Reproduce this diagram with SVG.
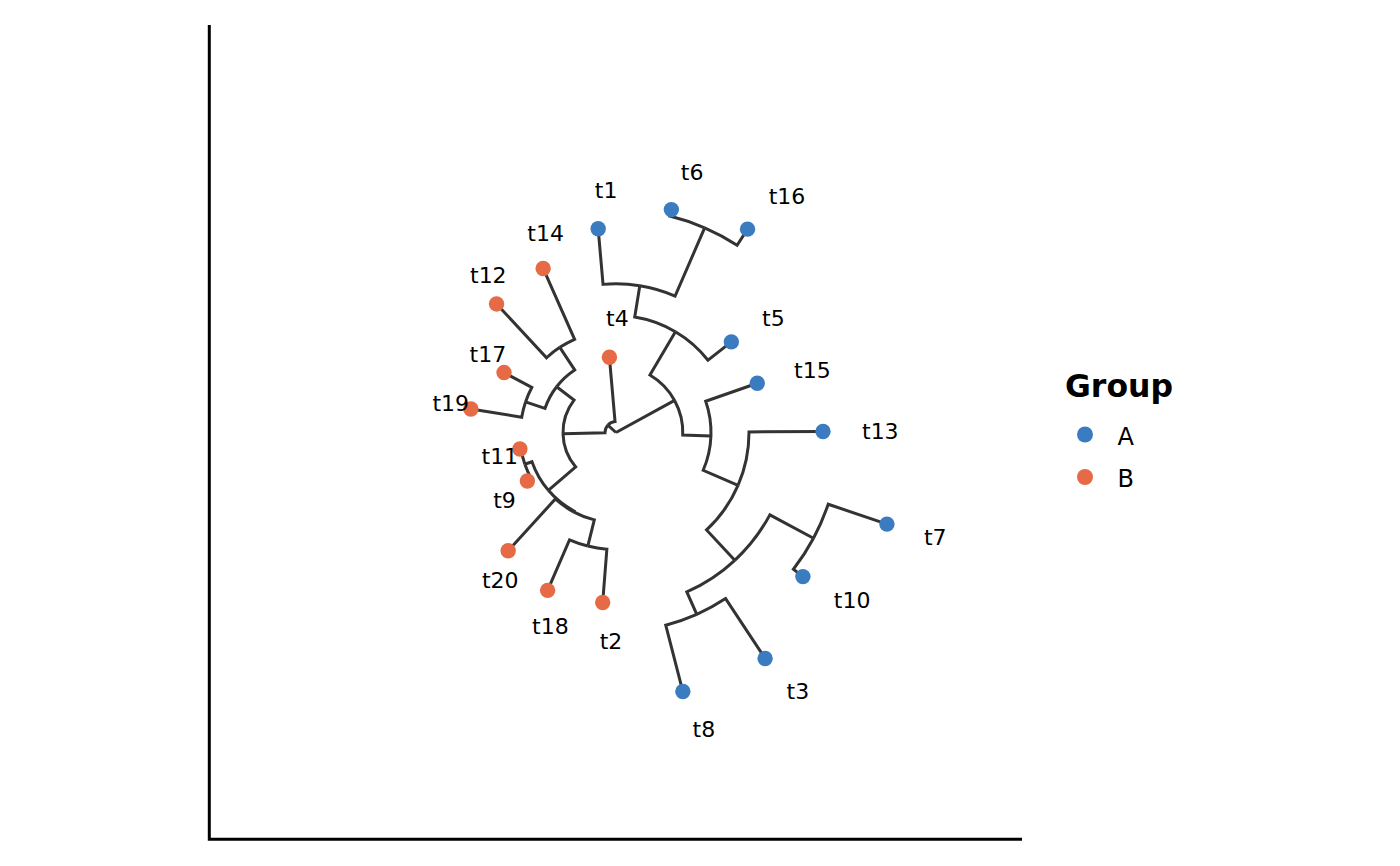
<svg xmlns="http://www.w3.org/2000/svg" width="1400" height="866" viewBox="0 0 1400 866">
<style>
.e{fill:none;stroke:#333333;stroke-width:3;stroke-linejoin:miter;stroke-linecap:butt}
.a{fill:#3B7BC0}
.b{fill:#E56A45}
.lbl{font-family:"DejaVu Sans","Liberation Sans",sans-serif;font-size:22px;fill:#000}
.ax{fill:none;stroke:#000;stroke-width:3}
</style>
<rect width="1400" height="866" fill="#fff"/>
<path class="ax" d="M209.3,25 L209.3,839.3 L1022,839.3"/>
<g id="connectors">
<path class="e" d="M616,432.5 L607.80,425.17"/>
<path class="e" d="M616,432.5 L674.60,400.44"/>
<path class="e" d="M607.80,425.17 A11 11 0 0 0 605.00,432.78 L563.02,433.84"/>
<path class="e" d="M607.80,425.17 A11 11 0 0 1 615.04,421.54 L609.42,357.29"/>
<path class="e" d="M563.02,433.84 A53 53 0 0 1 574.03,400.14 L556.60,386.71"/>
<path class="e" d="M563.02,433.84 A53 53 0 0 0 575.71,466.94 L548.35,490.33"/>
<path class="e" d="M556.60,386.71 A75 75 0 0 1 574.69,369.90 L559.82,347.37"/>
<path class="e" d="M556.60,386.71 A75 75 0 0 0 544.95,408.47 L525.53,401.91"/>
<path class="e" d="M559.82,347.37 A102 102 0 0 1 574.60,339.28 L543.14,268.45"/>
<path class="e" d="M559.82,347.37 A102 102 0 0 0 546.57,357.77 L496.54,303.93"/>
<path class="e" d="M525.53,401.91 A95.5 95.5 0 0 1 531.80,387.43 L504.03,372.57"/>
<path class="e" d="M525.53,401.91 A95.5 95.5 0 0 0 521.73,417.21 L470.89,408.97"/>
<path class="e" d="M548.35,490.33 A89 89 0 0 1 531.96,461.78 L524.87,464.25"/>
<path class="e" d="M548.35,490.33 A89 89 0 0 0 574.00,510.97 L573.53,511.85"/>
<path class="e" d="M524.87,464.25 A96.5 96.5 0 0 1 520.89,448.82 L519.90,448.99"/>
<path class="e" d="M524.87,464.25 A96.5 96.5 0 0 0 531.34,478.82 L527.39,480.98"/>
<path class="e" d="M573.53,511.85 A90 90 0 0 1 555.35,498.99 L508.18,550.71"/>
<path class="e" d="M573.53,511.85 A90 90 0 0 0 594.31,519.85 L587.80,546.05"/>
<path class="e" d="M587.80,546.05 A117 117 0 0 1 569.49,539.86 L547.63,590.33"/>
<path class="e" d="M587.80,546.05 A117 117 0 0 0 606.87,549.14 L602.70,602.48"/>
<path class="e" d="M674.60,400.44 A66.8 66.8 0 0 0 649.93,374.96 L675.43,331.72"/>
<path class="e" d="M674.60,400.44 A66.8 66.8 0 0 1 682.75,434.95 L710.94,435.99"/>
<path class="e" d="M675.43,331.72 A117 117 0 0 0 634.73,317.01 L639.80,285.72"/>
<path class="e" d="M675.43,331.72 A117 117 0 0 1 708.00,360.21 L731.35,341.86"/>
<path class="e" d="M639.80,285.72 A148.7 148.7 0 0 0 603.04,284.37 L598.18,228.78"/>
<path class="e" d="M639.80,285.72 A148.7 148.7 0 0 1 675.11,296.05 L704.64,227.87"/>
<path class="e" d="M704.64,227.87 A223 223 0 0 0 669.76,216.08 L671.36,209.58"/>
<path class="e" d="M704.64,227.87 A223 223 0 0 1 737.11,245.25 L747.54,229.13"/>
<path class="e" d="M710.94,435.99 A95 95 0 0 0 705.71,401.24 L757.27,383.28"/>
<path class="e" d="M710.94,435.99 A95 95 0 0 1 703.17,470.26 L738.04,485.37"/>
<path class="e" d="M738.04,485.37 A133 133 0 0 0 749.00,431.89 L823.00,431.55"/>
<path class="e" d="M738.04,485.37 A133 133 0 0 1 706.53,529.94 L734.78,560.34"/>
<path class="e" d="M734.78,560.34 A174.5 174.5 0 0 0 769.85,514.85 L813.49,538.21"/>
<path class="e" d="M734.78,560.34 A174.5 174.5 0 0 1 686.83,591.98 L696.77,614.37"/>
<path class="e" d="M813.49,538.21 A224 224 0 0 0 828.20,504.26 L886.93,524.12"/>
<path class="e" d="M813.49,538.21 A224 224 0 0 1 793.40,569.27 L802.90,576.60"/>
<path class="e" d="M696.77,614.37 A199 199 0 0 0 725.61,598.60 L765.10,658.44"/>
<path class="e" d="M696.77,614.37 A199 199 0 0 1 665.74,625.19 L682.86,691.51"/>
</g>
<g id="t1"><circle class="a" cx="598.18" cy="228.78" r="7.7"/><text class="lbl" x="594.8" y="198">t1</text></g>
<g id="t6"><circle class="a" cx="671.36" cy="209.58" r="7.7"/><text class="lbl" x="680.8" y="179.7">t6</text></g>
<g id="t16"><circle class="a" cx="747.54" cy="229.13" r="7.7"/><text class="lbl" x="768.7" y="204.4">t16</text></g>
<g id="t5"><circle class="a" cx="731.35" cy="341.86" r="7.7"/><text class="lbl" x="762.0" y="325.8">t5</text></g>
<g id="t15"><circle class="a" cx="757.27" cy="383.28" r="7.7"/><text class="lbl" x="794.1" y="378.4">t15</text></g>
<g id="t13"><circle class="a" cx="823.00" cy="431.55" r="7.7"/><text class="lbl" x="862.0" y="439.4">t13</text></g>
<g id="t7"><circle class="a" cx="886.93" cy="524.12" r="7.7"/><text class="lbl" x="923.9" y="544.6">t7</text></g>
<g id="t10"><circle class="a" cx="802.90" cy="576.60" r="7.7"/><text class="lbl" x="833.8" y="608.4">t10</text></g>
<g id="t3"><circle class="a" cx="765.10" cy="658.44" r="7.7"/><text class="lbl" x="786.6" y="699.0">t3</text></g>
<g id="t8"><circle class="a" cx="682.86" cy="691.51" r="7.7"/><text class="lbl" x="692.6" y="737.3">t8</text></g>
<g id="t2"><circle class="b" cx="602.70" cy="602.48" r="7.7"/><text class="lbl" x="599.7" y="649.4">t2</text></g>
<g id="t18"><circle class="b" cx="547.63" cy="590.33" r="7.7"/><text class="lbl" x="532.1" y="634.1">t18</text></g>
<g id="t20"><circle class="b" cx="508.18" cy="550.71" r="7.7"/><text class="lbl" x="481.9" y="587.5">t20</text></g>
<g id="t9"><circle class="b" cx="527.39" cy="480.98" r="7.7"/><text class="lbl" x="493.2" y="507.7">t9</text></g>
<g id="t11"><circle class="b" cx="519.90" cy="448.99" r="7.7"/><text class="lbl" x="481.5" y="463.6">t11</text></g>
<g id="t19"><circle class="b" cx="470.89" cy="408.97" r="7.7"/><text class="lbl" x="432.4" y="410.7">t19</text></g>
<g id="t17"><circle class="b" cx="504.03" cy="372.57" r="7.7"/><text class="lbl" x="469.6" y="362.2">t17</text></g>
<g id="t12"><circle class="b" cx="496.54" cy="303.93" r="7.7"/><text class="lbl" x="470.0" y="283.4">t12</text></g>
<g id="t14"><circle class="b" cx="543.14" cy="268.45" r="7.7"/><text class="lbl" x="527.3" y="240.8">t14</text></g>
<g id="t4"><circle class="b" cx="609.42" cy="357.29" r="7.7"/><text class="lbl" x="606.0" y="326.4">t4</text></g>
<g id="legend">
<text x="1065" y="397" style="font-family:'DejaVu Sans','Liberation Sans',sans-serif;font-size:31.5px;font-weight:bold;fill:#000">Group</text>
<circle class="a" cx="1085" cy="434.5" r="8"/>
<circle class="b" cx="1085" cy="477" r="8"/>
<text x="1117.5" y="445" style="font-family:'DejaVu Sans','Liberation Sans',sans-serif;font-size:24px;fill:#000">A</text>
<text x="1117.5" y="487" style="font-family:'DejaVu Sans','Liberation Sans',sans-serif;font-size:24px;fill:#000">B</text>
</g>
</svg>
